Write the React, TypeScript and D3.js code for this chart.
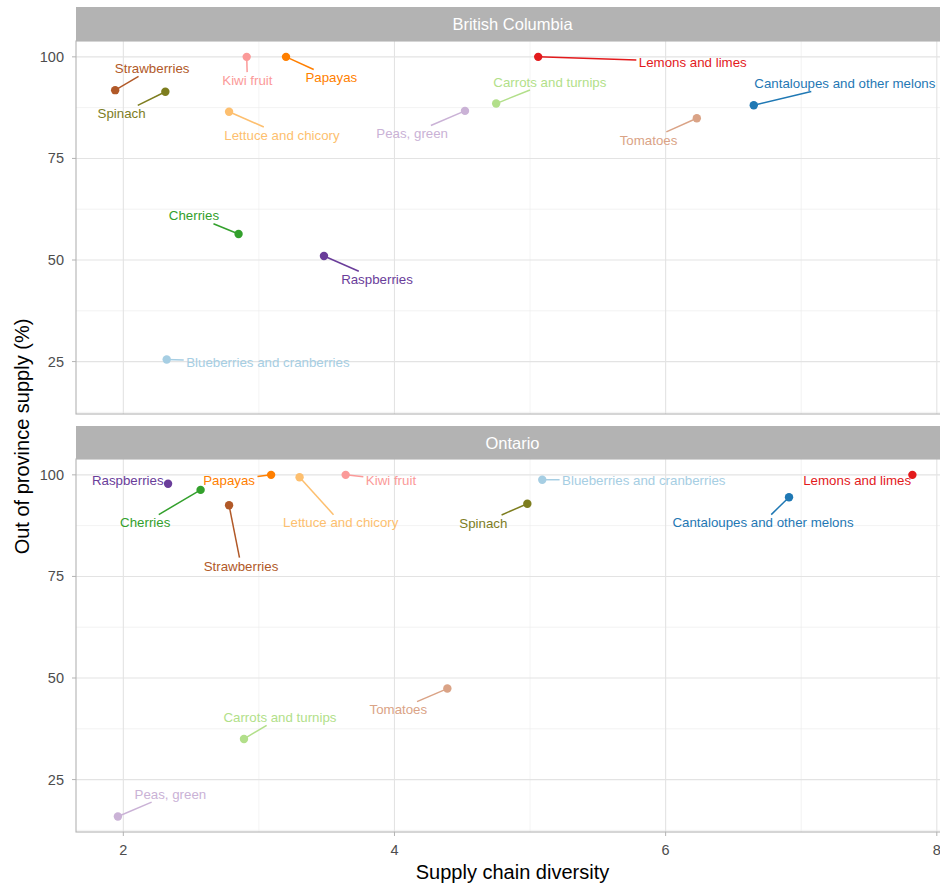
import React, { useRef, useEffect } from 'react';
import * as d3 from 'd3';

const provinces = ['British Columbia', 'Ontario'];

const commodities = [
  'Blueberries and cranberries',
  'Cantaloupes and other melons',
  'Carrots and turnips',
  'Cherries',
  'Kiwi fruit',
  'Lemons and limes',
  'Lettuce and chicory',
  'Papayas',
  'Peas, green',
  'Raspberries',
  'Spinach',
  'Strawberries',
  'Tomatoes',
];

const commodityColors = [
  '#A6CEE3', '#1F78B4', '#B2DF8A', '#33A02C', '#FB9A99', '#E31A1C',
  '#FDBF6F', '#FF7F00', '#CAB2D6', '#6A3D9A', '#7D7D1E', '#B15928', '#DAA386',
];

// Supply chain diversity (x)
const bcDiversity = [2.32, 6.65, 4.75, 2.85, 2.91, 5.06, 2.78, 3.2, 4.52, 3.48, 2.31, 1.94, 6.23];
const onDiversity = [5.09, 6.91, 2.89, 2.57, 3.64, 7.82, 3.3, 3.09, 1.96, 2.33, 4.98, 2.78, 4.39];

// Out of province supply % (y)
const bcSupply = [25.5, 88.1, 88.5, 56.4, 100, 100, 86.5, 100, 86.7, 51.0, 91.4, 91.8, 84.9];
const onSupply = [98.8, 94.5, 35.0, 96.3, 100, 100, 99.4, 100, 15.9, 97.8, 92.9, 92.5, 47.4];

const xTicks = [2, 4, 6, 8];
const xMinor = [3, 5, 7];
const yTicks = [25, 50, 75, 100];
const yMinor = [12.5, 37.5, 62.5, 87.5];

// repelled label placement (label centre offset from its point, px)
const bcLabelOffsets = [
  [101.2, 2.4], [91.1, -21.7], [53.7, -21.6], [-44.6, -18.3], [0.7, 23.3], [154.6, 5],
  [52.9, 23.3], [45.3, 20.6], [-52.8, 22.6], [53, 23.3], [-43.8, 21.6], [37, -21.7], [-48.3, 21.7],
];
const onLabelOffsets = [
  [101.5, 0], [-26, 25.4], [36, -21.6], [-55.4, 32.7], [45.3, 5], [-55.2, 5],
  [41.2, 45.4], [-42, 5], [52.5, -22.4], [-40.3, -4], [-44, 19.3], [12, 60.4], [-49, 21],
];

const W = 940;
const H = 884;
const FONT = "'Liberation Sans', Arial, Helvetica, sans-serif";

export default function App() {
  const ref = useRef<SVGSVGElement>(null);

  useEffect(() => {
    const svg = d3.select(ref.current);
    svg.selectAll('*').remove();

    const left = 76;
    const right = 949;
    const panels = [
      { name: provinces[0], stripTop: 7, top: 41, bottom: 414, xs: bcDiversity, ys: bcSupply, offs: bcLabelOffsets },
      { name: provinces[1], stripTop: 426, top: 459, bottom: 832, xs: onDiversity, ys: onSupply, offs: onLabelOffsets },
    ];

    const x = d3.scaleLinear().domain([1.651, 8.09]).range([left, right]);
    const labelSize = 13.3;

    panels.forEach((p, pi) => {
      const y = d3.scaleLinear().domain([12.1, 103.9]).range([p.bottom, p.top]);
      const g = svg.append('g');

      // strip
      g.append('rect')
        .attr('x', left).attr('y', p.stripTop)
        .attr('width', right - left).attr('height', p.top - p.stripTop)
        .attr('fill', '#B3B3B3');
      g.append('text')
        .attr('x', (left + right) / 2)
        .attr('y', (p.stripTop + p.top) / 2 + 6.3)
        .attr('text-anchor', 'middle')
        .attr('fill', '#ffffff')
        .attr('font-size', 16.5)
        .attr('font-family', FONT)
        .text(p.name);

      // grid
      g.selectAll('.ym').data(yMinor).enter().append('line')
        .attr('x1', left).attr('x2', right)
        .attr('y1', (d) => y(d)).attr('y2', (d) => y(d))
        .attr('stroke', '#EBEBEB').attr('stroke-width', 0.6);
      g.selectAll('.xm').data(xMinor).enter().append('line')
        .attr('y1', p.top).attr('y2', p.bottom)
        .attr('x1', (d) => x(d)).attr('x2', (d) => x(d))
        .attr('stroke', '#EBEBEB').attr('stroke-width', 0.6);
      g.selectAll('.yM').data(yTicks).enter().append('line')
        .attr('x1', left).attr('x2', right)
        .attr('y1', (d) => y(d)).attr('y2', (d) => y(d))
        .attr('stroke', '#E3E3E3').attr('stroke-width', 1.1);
      g.selectAll('.xM').data(xTicks).enter().append('line')
        .attr('y1', p.top).attr('y2', p.bottom)
        .attr('x1', (d) => x(d)).attr('x2', (d) => x(d))
        .attr('stroke', '#E3E3E3').attr('stroke-width', 1.1);

      // border
      g.append('rect')
        .attr('x', left).attr('y', p.top)
        .attr('width', right - left).attr('height', p.bottom - p.top)
        .attr('fill', 'none').attr('stroke', '#B3B3B3').attr('stroke-width', 1.1);

      // y axis ticks + labels
      g.selectAll('.yt').data(yTicks).enter().append('line')
        .attr('x1', left - 4).attr('x2', left)
        .attr('y1', (d) => y(d)).attr('y2', (d) => y(d))
        .attr('stroke', '#B3B3B3').attr('stroke-width', 1);
      g.selectAll('.yl').data(yTicks).enter().append('text')
        .attr('x', left - 12)
        .attr('y', (d) => y(d) + 5)
        .attr('text-anchor', 'end')
        .attr('fill', '#4D4D4D')
        .attr('font-size', 14.5)
        .attr('font-family', FONT)
        .text((d) => String(d));

      if (pi === 1) {
        g.selectAll('.xt').data(xTicks).enter().append('line')
          .attr('x1', (d) => x(d)).attr('x2', (d) => x(d))
          .attr('y1', p.bottom).attr('y2', p.bottom + 4)
          .attr('stroke', '#B3B3B3').attr('stroke-width', 1);
        g.selectAll('.xl').data(xTicks).enter().append('text')
          .attr('x', (d) => x(d))
          .attr('y', p.bottom + 23)
          .attr('text-anchor', 'middle')
          .attr('fill', '#4D4D4D')
          .attr('font-size', 14.5)
          .attr('font-family', FONT)
          .text((d) => String(d));
      }

      // labels (measure first)
      const items = commodities.map((c, i) => {
        const px = x(p.xs[i]);
        const py = y(p.ys[i]);
        return { c, i, px, py, cx: px + p.offs[i][0], cy: py + p.offs[i][1] };
      });

      const segG = g.append('g');
      const ptG = g.append('g');
      const txtG = g.append('g');

      items.forEach((it) => {
        const t = txtG.append('text')
          .attr('x', it.cx)
          .attr('y', it.cy + labelSize * 0.36)
          .attr('text-anchor', 'middle')
          .attr('fill', commodityColors[it.i])
          .attr('font-size', labelSize)
          .attr('font-family', FONT)
          .text(it.c);
        const w = (t.node() as SVGTextElement).getComputedTextLength();
        const hw = w / 2 + 2.5;
        const hh = 8;
        const dx = it.px - it.cx;
        const dy = it.py - it.cy;
        const tx = dx === 0 ? Infinity : hw / Math.abs(dx);
        const ty = dy === 0 ? Infinity : hh / Math.abs(dy);
        const tt = Math.min(tx, ty);
        if (tt < 1) {
          const ex = it.cx + dx * tt;
          const ey = it.cy + dy * tt;
          const len = Math.hypot(ex - it.px, ey - it.py);
          if (len > 5) {
            segG.append('line')
              .attr('x1', it.px).attr('y1', it.py)
              .attr('x2', ex).attr('y2', ey)
              .attr('stroke', commodityColors[it.i])
              .attr('stroke-width', 1.5);
          }
        }
        ptG.append('circle')
          .attr('cx', it.px).attr('cy', it.py).attr('r', 4.2)
          .attr('fill', commodityColors[it.i]);
      });
    });

    // axis titles
    svg.append('text')
      .attr('x', (left + right) / 2)
      .attr('y', 879)
      .attr('text-anchor', 'middle')
      .attr('fill', '#000')
      .attr('font-size', 20)
      .attr('font-family', FONT)
      .text('Supply chain diversity');
    svg.append('text')
      .attr('transform', `translate(29, ${(41 + 832) / 2}) rotate(-90)`)
      .attr('text-anchor', 'middle')
      .attr('fill', '#000')
      .attr('font-size', 20)
      .attr('font-family', FONT)
      .text('Out of province supply (%)');
  }, []);

  return (
    <svg
      ref={ref}
      width={W}
      height={H}
      style={{ position: 'absolute', left: 0, top: 0, background: '#fff' }}
    />
  );
}
